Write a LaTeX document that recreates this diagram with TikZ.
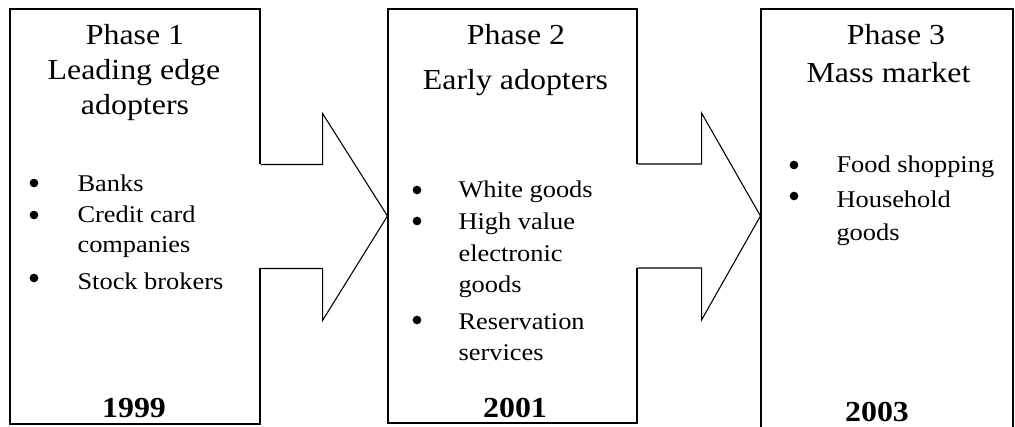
\documentclass[tikz,border=0pt]{standalone}
\usepackage{fontspec}
\setmainfont{Liberation Serif}[FakeStretch=1.1]
\usetikzlibrary{calc}
\begin{document}
\begin{tikzpicture}[x=0.75pt,y=-0.75pt,line width=0.8pt,
  box/.style={draw,inner sep=0pt,line width=0.8pt},
  title/.style={anchor=base,inner sep=0pt,font=\fontsize{21.75}{26}\selectfont},
  item/.style={anchor=base west,inner sep=0pt,font=\fontsize{18}{22}\selectfont},
  year/.style={anchor=base,inner sep=0pt,font=\fontsize{21.75}{26}\selectfont\bfseries},
  dot/.style={fill=black,draw=none,circle,minimum size=6.5pt,inner sep=0pt},
  blockarrow/.style={draw,line width=0.8pt,line join=miter}]
\useasboundingbox (0,0) rectangle (1015,427);
\clip (0,0) rectangle (1015,427);
% boxes
\node[box,minimum width=187.5pt,minimum height=311.25pt] (b1) at (135,216.5) {};
\node[box,minimum width=186.75pt,minimum height=310.5pt] (b2) at (512.5,216) {};
\node[box,minimum width=189pt,minimum height=323.25pt] (b3) at (887,224.5) {};
% arrow 1
\coordinate (a1s1) at ($(b1.east)+(0,-52)$);
\coordinate (a1s2) at ($(b1.east)+(0,52)$);
\fill[white] ($(a1s1)+(-3,0)$) rectangle ($(a1s2)+(62,0)$);
\fill[white] ($(b1.east)+(62,-103)$) -- (b2.west) -- ($(b1.east)+(62,104)$) -- cycle;
\draw[blockarrow] (a1s1) -- ++(62,0) -- ++(0,-51) -- (b2.west) -- ($(b1.east)+(62,104)$) -- ++(0,-52) -- (a1s2);
% arrow 2
\coordinate (a2s1) at ($(b2.east)+(0,-52)$);
\coordinate (a2s2) at ($(b2.east)+(0,52)$);
\fill[white] ($(a2s1)+(-3,0)$) rectangle ($(a2s2)+(64,0)$);
\fill[white] ($(b2.east)+(64,-103)$) -- (b3.west |- b2.east) -- ($(b2.east)+(64,104)$) -- cycle;
\draw[blockarrow] (a2s1) -- ++(64,0) -- ++(0,-51) -- (b3.west |- b2.east) -- ($(b2.east)+(64,104)$) -- ++(0,-52) -- (a2s2);
% box 1 text
\node[title] (t1a) at (135,45) {Phase 1};
\node[title] (t1b) at (134,80) {Leading edge};
\node[title] (t1c) at (135,115) {adopters};
\node[dot] (d11) at (34,183) {};
\node[dot] (d12) at (34,215) {};
\node[dot] (d13) at (34,278) {};
\node[item] (i11) at (77,192) {Banks};
\node[item] (i12) at (77,223) {Credit card};
\node[item] (i13) at (77,253) {companies};
\node[item] (i14) at (77,290) {Stock brokers};
\node[year] (y1) at (134,418) {1999};
% box 2 text
\node[title] (t2a) at (516,45) {Phase 2};
\node[title] (t2b) at (515.5,90) {Early adopters};
\node[dot] (d21) at (417,190) {};
\node[dot] (d22) at (417,221) {};
\node[dot] (d23) at (417,320) {};
\node[item] (i21) at (458,198) {White goods};
\node[item] (i22) at (458,230) {High value};
\node[item] (i23) at (458,262) {electronic};
\node[item] (i24) at (458,293) {goods};
\node[item] (i25) at (458,330) {Reservation};
\node[item] (i26) at (458,361) {services};
\node[year] (y2) at (515,418) {2001};
% box 3 text
\node[title] (t3a) at (896,45) {Phase 3};
\node[title] (t3b) at (888.5,83) {Mass market};
\node[dot] (d31) at (794,165) {};
\node[dot] (d32) at (794,196) {};
\node[item] (i31) at (836,173) {Food shopping};
\node[item] (i32) at (836,208) {Household};
\node[item] (i33) at (836,241) {goods};
\node[year] (y3) at (877,422) {2003};
\end{tikzpicture}
\end{document}
